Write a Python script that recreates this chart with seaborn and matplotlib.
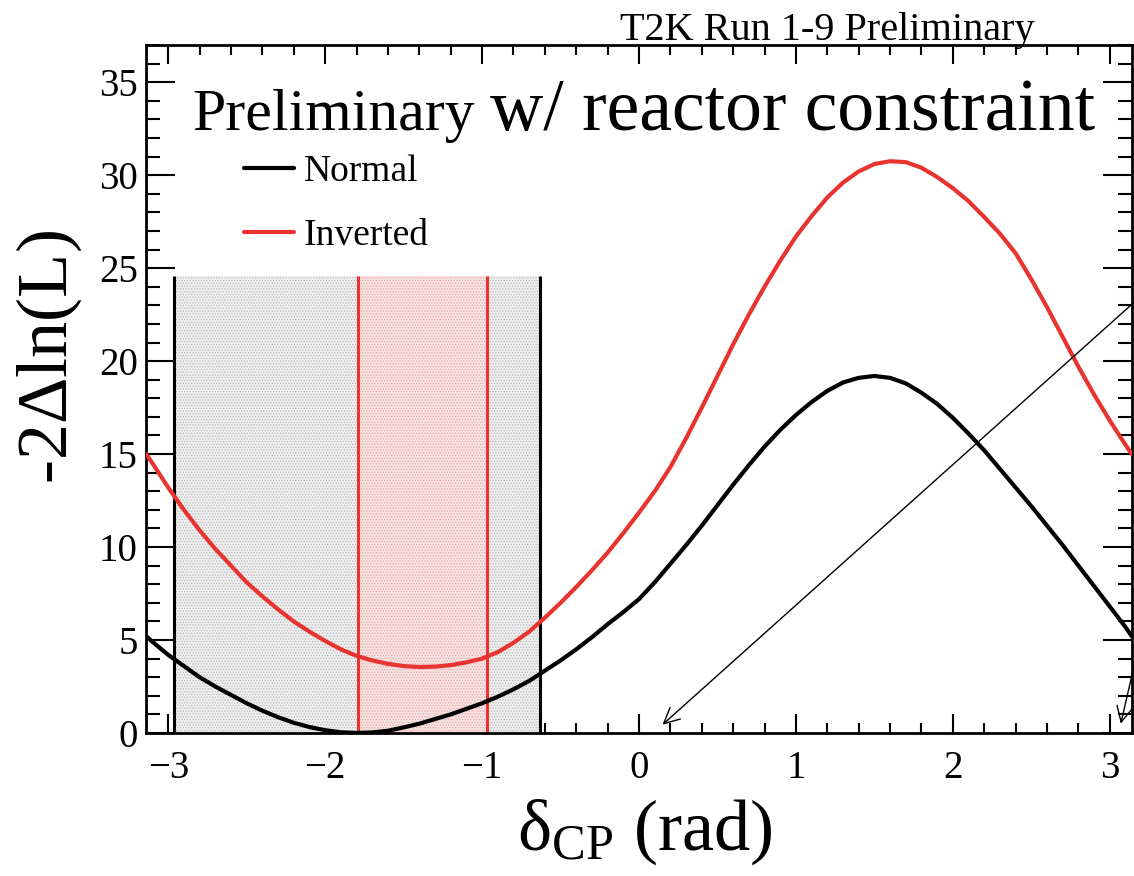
import numpy as np
import pandas as pd
import seaborn as sns
import matplotlib.pyplot as plt
from matplotlib.ticker import MultipleLocator

# delta_CP grid (rad) and -2dlnL
delta_cp = [-3.14, -3.1, -3.0, -2.9, -2.8, -2.7, -2.6, -2.5, -2.4, -2.3, -2.2,
            -2.1, -2.0, -1.9, -1.8, -1.7, -1.6, -1.5, -1.4, -1.3, -1.2, -1.1,
            -1.0, -0.9, -0.8, -0.7, -0.6, -0.5, -0.4, -0.3, -0.2, -0.1, 0.0,
            0.1, 0.2, 0.3, 0.4, 0.5, 0.6, 0.7, 0.8, 0.9, 1.0, 1.1, 1.2, 1.3,
            1.4, 1.5, 1.6, 1.7, 1.8, 1.9, 2.0, 2.1, 2.2, 2.3, 2.4, 2.5, 2.6,
            2.7, 2.8, 2.9, 3.0, 3.1, 3.14]
normal_dlnl = [5.2, 4.9, 4.2, 3.6, 3.0, 2.5, 2.05, 1.6, 1.2, 0.85, 0.55,
               0.32, 0.15, 0.04, 0.0, 0.03, 0.12, 0.3, 0.5, 0.75, 1.0, 1.3,
               1.6, 1.95, 2.35, 2.8, 3.35, 3.9, 4.5, 5.15, 5.85, 6.5, 7.2,
               8.1, 9.1, 10.1, 11.15, 12.25, 13.35, 14.4, 15.4, 16.3, 17.1, 17.8, 18.4, 18.85,
               19.1, 19.2, 19.1, 18.8, 18.3, 17.7, 16.95, 16.1, 15.2, 14.2, 13.2, 12.2, 11.15,
               10.1, 9.0, 7.9, 6.8, 5.7, 5.2]
inverted_dlnl = [15.0, 14.5, 13.2, 12.0, 10.9, 9.9, 9.0, 8.1, 7.35, 6.65, 6.0,
                 5.45, 4.95, 4.5, 4.15, 3.9, 3.72, 3.6, 3.55, 3.57, 3.65, 3.8,
                 4.0, 4.35, 4.85, 5.45, 6.2, 7.0, 7.85, 8.75, 9.7, 10.75, 11.85,
                 13.0, 14.3, 15.85, 17.5, 19.2, 20.9, 22.5, 24.0, 25.4, 26.7, 27.8, 28.8, 29.6,
                 30.2, 30.6, 30.75, 30.7, 30.4, 29.9, 29.3, 28.6, 27.75, 26.85, 25.8, 24.4, 22.9,
                 21.3, 19.7, 18.2, 16.8, 15.5, 15.0]

# shaded delta_CP intervals
nh_interval = [-2.96, -0.63]
ih_interval = [-1.79, -0.97]
band_top = 24.6

x_ticks = [-3, -2, -1, 0, 1, 2, 3]
y_ticks = [0, 5, 10, 15, 20, 25, 30, 35]

df = pd.concat([
    pd.DataFrame({'dcp': delta_cp, 'dlnl': normal_dlnl, 'hierarchy': 'Normal'}),
    pd.DataFrame({'dcp': delta_cp, 'dlnl': inverted_dlnl, 'hierarchy': 'Inverted'}),
])

sns.set_style('ticks')
plt.rcParams['font.family'] = ['Liberation Serif', 'DejaVu Serif']
plt.rcParams['mathtext.fontset'] = 'custom'
plt.rcParams['mathtext.rm'] = 'Liberation Serif'
plt.rcParams['mathtext.default'] = 'regular'
plt.rcParams['hatch.linewidth'] = 0.6
for k in ['text.color', 'axes.labelcolor', 'xtick.color', 'ytick.color', 'axes.edgecolor']:
    plt.rcParams[k] = 'black'

red = '#e8342f'

fig = plt.figure(figsize=(11.34, 8.76), dpi=100)
ax = fig.add_axes([146/1134, (876-733)/876, 986/1134, 688/876])

# shaded intervals
ax.fill_between(nh_interval, 0, band_top, facecolor='#efefef', edgecolor='#b8b8b8',
                hatch='......', linewidth=0, zorder=1)
ax.fill_between(ih_interval, 0, band_top, facecolor='#f7e2e2', edgecolor='#e6a9a9',
                hatch='......', linewidth=0, zorder=1)
ax.vlines(nh_interval, 0, band_top, colors='black', lw=2.2, zorder=2)
ax.vlines(ih_interval, 0, band_top, colors=red, lw=2.2, zorder=2)

sns.lineplot(data=df, x='dcp', y='dlnl', hue='hierarchy', sort=False,
             palette={'Normal': 'black', 'Inverted': red}, lw=3, ax=ax, zorder=3)

ax.set_xlim(-np.pi, np.pi)
ax.set_ylim(0, 37)
ax.set_xticks(x_ticks)
ax.set_yticks(y_ticks)
ax.xaxis.set_minor_locator(MultipleLocator(0.2))
ax.yaxis.set_minor_locator(MultipleLocator(1))
ax.tick_params(axis='both', which='both', direction='in', top=True, right=True,
               width=1.5, labelsize=28)
ax.tick_params(axis='x', which='major', length=14, pad=12)
ax.tick_params(axis='x', which='minor', length=7)
ax.tick_params(axis='y', which='major', length=21, pad=6)
ax.tick_params(axis='y', which='minor', length=10)
for s in ax.spines.values():
    s.set_linewidth(2)
ax.set_xlabel('')
ax.set_ylabel('')

handles, labels = ax.get_legend_handles_labels()
ax.legend(handles, labels, loc='upper left', bbox_to_anchor=(0.099, 0.841),
          frameon=False, fontsize=27, borderpad=0, borderaxespad=0,
          handlelength=1.35, handletextpad=0.25, labelspacing=0.8)

# arrows drawn on the original slide
ax.annotate('', xy=(0.15, 0.45), xytext=(3.16, 23.2), annotation_clip=False,
            arrowprops=dict(arrowstyle='->', lw=1, color='black', shrinkA=0,
                            shrinkB=0, mutation_scale=28))
ax.annotate('', xy=(3.07, 0.5), xytext=(3.16, 3.8), annotation_clip=False,
            arrowprops=dict(arrowstyle='->', lw=1, color='black', shrinkA=0,
                            shrinkB=0, mutation_scale=28))

fig.text(1035/1134, 1 - 40/876, 'T2K Run 1-9 Preliminary', ha='right',
         va='baseline', fontsize=29)
fig.text(192/1134, 1 - 130/876, 'Preliminary', ha='left', va='baseline', fontsize=43)
fig.text(490/1134, 1 - 130/876, 'w/ reactor constraint', ha='left', va='baseline',
         fontsize=53)
fig.text(49/1134, 1 - 357/876, '-2$\\Delta$ln(L)', rotation=90, ha='center',
         va='center', fontsize=52)
fig.text(645/1134, 1 - 850/876, 'δ$_{CP}$ (rad)', ha='center', va='baseline',
         fontsize=52)

fig.savefig('out.png', dpi=100)
